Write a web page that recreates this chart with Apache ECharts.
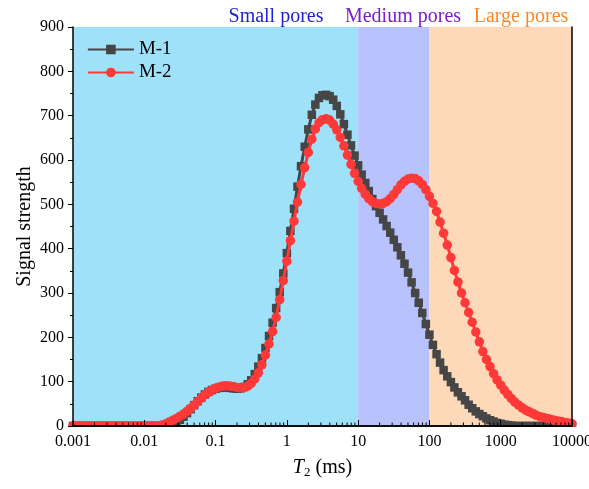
<!DOCTYPE html>
<html>
<head>
<meta charset="utf-8">
<title>T2 spectrum</title>
<script src="https://cdn.jsdelivr.net/npm/echarts@6/dist/echarts.min.js"></script>
<style>
  html, body { margin: 0; padding: 0; background: #fff; }
  #chart { width: 589px; height: 489px; }
</style>
</head>
<body>
<div id="chart"></div>
<script>
// T2 relaxation times (ms), 20 points per decade
const T2 = [
  0.001, 0.00112, 0.00126, 0.00141, 0.00158, 0.00178, 0.002, 0.00224, 0.00251, 0.00282,
  0.00316, 0.00355, 0.00398, 0.00447, 0.00501, 0.00562, 0.00631, 0.00708, 0.00794, 0.00891,
  0.01, 0.0112, 0.0126, 0.0141, 0.0158, 0.0178, 0.02, 0.0224, 0.0251, 0.0282,
  0.0316, 0.0355, 0.0398, 0.0447, 0.0501, 0.0562, 0.0631, 0.0708, 0.0794, 0.0891,
  0.1, 0.112, 0.126, 0.141, 0.158, 0.178, 0.2, 0.224, 0.251, 0.282,
  0.316, 0.355, 0.398, 0.447, 0.501, 0.562, 0.631, 0.708, 0.794, 0.891,
  1, 1.12, 1.26, 1.41, 1.58, 1.78, 2, 2.24, 2.51, 2.82,
  3.16, 3.55, 3.98, 4.47, 5.01, 5.62, 6.31, 7.08, 7.94, 8.91,
  10, 11.2, 12.6, 14.1, 15.8, 17.8, 20, 22.4, 25.1, 28.2,
  31.6, 35.5, 39.8, 44.7, 50.1, 56.2, 63.1, 70.8, 79.4, 89.1,
  100, 112, 126, 141, 158, 178, 200, 224, 251, 282,
  316, 355, 398, 447, 501, 562, 631, 708, 794, 891,
  1000, 1120, 1260, 1410, 1580, 1780, 2000, 2240, 2510, 2820,
  3160, 3550, 3980, 4470, 5010, 5620, 6310, 7080, 7940, 8910,
  10000
];

// Signal strength of sample M-1
const M1 = [
  0, 0, 0, 0, 0, 0, 0, 0, 0, 0,
  0, 0, 0, 0, 0, 0, 0, 0, 0, 0,
  0, 0, 0, 0, 0, 0, 0, 2, 5, 9,
  14, 21, 29, 38, 47, 56, 64, 71, 77, 81,
  84, 86, 87, 87, 86, 85, 84, 85, 88, 94,
  103, 117, 134, 153, 176, 203, 233, 266, 302, 344,
  390, 440, 490, 540, 586, 630, 669, 702, 725, 740,
  746, 747, 744, 736, 722, 703, 681, 657, 633, 610,
  588, 567, 548, 530, 512, 496, 481, 466, 451, 436,
  420, 403, 385, 366, 346, 324, 300, 278, 255, 230,
  206, 183, 162, 143, 126, 112, 99, 87, 76, 67,
  58, 48, 40, 33, 27, 22, 17, 13, 10, 7,
  5, 3, 2, 1, 0, 0, 0, 0, 0, 0,
  0, 0, 0, 0, 0, 0, 0, 0, 0, 0,
  0
];

// Signal strength of sample M-2
const M2 = [
  0, 0, 0, 0, 0, 0, 0, 0, 0, 0,
  0, 0, 0, 0, 0, 0, 0, 0, 0, 0,
  0, 0, 0, 0, 0, 2, 5, 9, 13, 17,
  22, 27, 33, 40, 47, 55, 63, 70, 76, 81,
  85, 88, 90, 91, 90, 89, 87, 86, 87, 90,
  96, 106, 120, 138, 160, 185, 213, 245, 285, 328,
  372, 418, 462, 505, 545, 583, 617, 647, 670, 684,
  691, 693, 690, 681, 668, 651, 632, 611, 590, 570,
  552, 536, 523, 513, 506, 502, 501, 502, 506, 513,
  522, 533, 544, 552, 557, 559, 558, 553, 545, 533,
  518, 502, 484, 460, 435, 408, 380, 351, 325, 300,
  278, 256, 234, 212, 190, 168, 150, 134, 118, 104,
  92, 81, 71, 62, 54, 47, 41, 36, 32, 28,
  24, 21, 19, 17, 15, 13, 11, 10, 8, 7,
  5
];

const seriesNames = ['M-1', 'M-2'];
const xTickLabels = ['0.001', '0.01', '0.1', '1', '10', '100', '1000', '10000'];
const xDecades = [0.001, 0.01, 0.1, 1, 10, 100, 1000];
const minorMantissas = [2, 3, 4, 5, 6, 7, 8, 9];

// pore size classes along the T2 axis
const poreNames = ['Small pores', 'Medium pores', 'Large pores'];
const poreFrom = [0.001, 10, 100];
const poreTo = [10, 100, 10000];

const FONT = '"Liberation Serif", "Times New Roman", "DejaVu Serif", serif';
const bandColors = ['#a0e1fa', '#b8c3fd', '#fdd8b9'];
const poreTextColors = ['#2323cf', '#7a20c4', '#f6882c'];
const poreTextX = [276, 403, 521];

const minorTicks = [];
xDecades.forEach(d => minorMantissas.forEach(m => minorTicks.push([m * d, 0])));

const pairs = (ys) => T2.map((t, i) => [t, ys[i]]);

const chart = echarts.init(document.getElementById('chart'), null, { renderer: 'canvas' });

chart.setOption({
  animation: false,
  backgroundColor: '#ffffff',
  grid: { left: 73, right: 17, top: 27, bottom: 63, containLabel: false, outerBoundsMode: 'none' },
  legend: {
    data: seriesNames,
    orient: 'vertical',
    left: 82,
    top: 35,
    itemWidth: 46,
    itemHeight: 12,
    itemGap: 4,
    lineStyle: { width: 1.8 },
    textStyle: { fontFamily: FONT, fontSize: 19, color: '#000' }
  },
  xAxis: [{
    type: 'log',
    logBase: 10,
    min: 0.001,
    max: 10000,
    z: 60,
    name: '{t|T}{s|2}{n| (ms)}',
    nameLocation: 'middle',
    nameGap: 31,
    nameMoveOverlap: false,
    nameTextStyle: {
      rich: {
        t: { fontFamily: FONT, fontSize: 20, fontStyle: 'italic', color: '#000' },
        s: { fontFamily: FONT, fontSize: 13, color: '#000', padding: [9, 0, 0, 0] },
        n: { fontFamily: FONT, fontSize: 20, color: '#000' }
      }
    },
    axisLine: { show: true, lineStyle: { color: '#000', width: 1.5 } },
    axisTick: { show: true, inside: true, length: 6, lineStyle: { color: '#000', width: 1 } },
    minorTick: { show: false },
    splitLine: { show: false },
    axisLabel: {
      fontFamily: FONT, fontSize: 16, color: '#000', margin: 8,
      formatter: (v) => xTickLabels[Math.round(Math.log10(v)) + 3]
    }
  }, {
    type: 'log',
    logBase: 10,
    min: 0.001,
    max: 10000,
    position: 'top',
    z: 60,
    axisLine: { show: true, lineStyle: { color: '#000', width: 1.5 } },
    axisTick: { show: false },
    axisLabel: { show: false },
    splitLine: { show: false }
  }],
  yAxis: [{
    type: 'value',
    min: 0,
    max: 900,
    interval: 100,
    z: 60,
    name: 'Signal strength',
    nameLocation: 'middle',
    nameGap: 38,
    nameMoveOverlap: false,
    nameTextStyle: { fontFamily: FONT, fontSize: 20, color: '#000' },
    axisLine: { show: true, lineStyle: { color: '#000', width: 1.5 } },
    axisTick: { show: true, inside: false, length: 5, lineStyle: { color: '#000', width: 1 } },
    minorTick: { show: true, splitNumber: 2, length: 3, lineStyle: { color: '#000', width: 1 } },
    splitLine: { show: false },
    axisLabel: { fontFamily: FONT, fontSize: 16, color: '#000', margin: 9 }
  }, {
    type: 'value',
    min: 0,
    max: 900,
    position: 'right',
    z: 60,
    axisLine: { show: true, lineStyle: { color: '#000', width: 1.5 } },
    axisTick: { show: false },
    axisLabel: { show: false },
    splitLine: { show: false }
  }],
  graphic: [
    // keeps the zero-line markers inside the frame
    { type: 'rect', z: 50, shape: { x: 60, y: 427, width: 525, height: 5 }, style: { fill: '#fff' } }
  ].concat(poreNames.map((n, i) => ({
    type: 'text',
    z: 70,
    x: poreTextX[i],
    y: 17,
    style: {
      text: n, fill: poreTextColors[i], font: '20px ' + FONT,
      textAlign: 'center', textVerticalAlign: 'middle'
    }
  }))),
  series: [
    {
      name: seriesNames[0],
      type: 'line',
      data: pairs(M1),
      symbol: 'rect',
      symbolSize: 8.5,
      showAllSymbol: true,
      color: '#464646',
      lineStyle: { color: '#464646', width: 3 },
      itemStyle: { color: '#464646' },
      z: 3,
      markArea: {
        silent: true,
        data: poreNames.map((n, i) => [
          { xAxis: poreFrom[i], itemStyle: { color: bandColors[i], opacity: 1 } },
          { xAxis: poreTo[i] }
        ])
      }
    },
    {
      name: seriesNames[1],
      type: 'line',
      data: pairs(M2),
      symbol: 'circle',
      symbolSize: 9.5,
      showAllSymbol: true,
      color: '#ff3838',
      lineStyle: { color: '#ff3838', width: 3 },
      itemStyle: { color: '#ff3838' },
      z: 4
    },
    {
      // logarithmic minor ticks on the T2 axis
      type: 'custom',
      data: minorTicks,
      z: 55,
      silent: true,
      renderItem: (params, api) => {
        const p = api.coord([api.value(0), 0]);
        return {
          type: 'line',
          shape: { x1: p[0], y1: p[1], x2: p[0], y2: p[1] - 3.5 },
          style: { stroke: '#000', lineWidth: 1 }
        };
      }
    }
  ]
});
</script>
</body>
</html>
